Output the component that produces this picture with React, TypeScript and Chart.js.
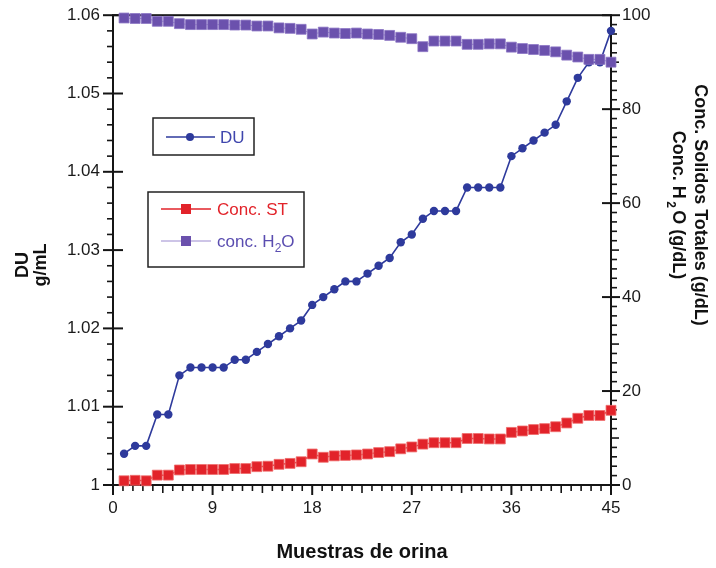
import { useEffect, useRef } from "react";
import { Chart, registerables } from "chart.js";

Chart.register(...registerables);

const samples = [
  1, 2, 3, 4, 5, 6, 7, 8, 9, 10, 11, 12, 13, 14, 15, 16, 17, 18, 19, 20, 21, 22, 23,
  24, 25, 26, 27, 28, 29, 30, 31, 32, 33, 34, 35, 36, 37, 38, 39, 40, 41, 42, 43, 44, 45,
];
const duValues = [
  1.004, 1.005, 1.005, 1.009, 1.009, 1.014, 1.015, 1.015, 1.015, 1.015, 1.016, 1.016,
  1.017, 1.018, 1.019, 1.02, 1.021, 1.023, 1.024, 1.025, 1.026, 1.026, 1.027, 1.028,
  1.029, 1.031, 1.032, 1.034, 1.035, 1.035, 1.035, 1.038, 1.038, 1.038, 1.038, 1.042,
  1.043, 1.044, 1.045, 1.046, 1.049, 1.052, 1.054, 1.054, 1.058,
];
const stValues = [
  0.9, 1.0, 0.9, 2.1, 2.1, 3.2, 3.3, 3.3, 3.3, 3.3, 3.5, 3.5, 3.9, 4.0, 4.4, 4.6, 4.95,
  6.6, 5.9, 6.2, 6.3, 6.4, 6.6, 6.9, 7.1, 7.7, 8.1, 8.7, 9.0, 9.0, 9.0, 9.9, 9.9, 9.8,
  9.8, 11.2, 11.5, 11.8, 12.0, 12.4, 13.2, 14.2, 14.8, 14.8, 15.9,
];
const h2oValues = [
  99.4, 99.3, 99.3, 98.7, 98.7, 98.2, 98.0, 98.0, 98.0, 98.0, 97.9, 97.9, 97.7, 97.7,
  97.3, 97.2, 97.0, 96.0, 96.4, 96.2, 96.1, 96.2, 96.0, 95.9, 95.7, 95.3, 95.0, 93.3,
  94.5, 94.5, 94.5, 93.8, 93.8, 93.9, 93.9, 93.2, 92.9, 92.7, 92.5, 92.2, 91.5, 91.1,
  90.6, 90.6, 90.0,
];

const xTicks = [0, 9, 18, 27, 36, 45];
const leftTicks = [1, 1.01, 1.02, 1.03, 1.04, 1.05, 1.06];
const rightTicks = [0, 20, 40, 60, 80, 100];
const xMinorStep = 0.9;
const leftMinorStep = 0.002;
const rightMinorStep = 2;

const DU_COLOR = "#2e3a9c";
const ST_COLOR = "#e2232a";
const H2O_COLOR = "#6b51ad";
const H2O_LINE = "#9b8acf";
const AXIS = "#151515";
const FONT = "'Liberation Sans', Arial, sans-serif";

function line(ctx: CanvasRenderingContext2D, x1: number, y1: number, x2: number, y2: number) {
  ctx.beginPath();
  ctx.moveTo(x1, y1);
  ctx.lineTo(x2, y2);
  ctx.stroke();
}

const framePlugin = {
  id: "frameTicks",
  beforeDatasetsDraw(chart: any) {
    const { ctx, chartArea } = chart;
    const { left, right, top, bottom } = chartArea;
    const xs = chart.scales.x;
    const ys = chart.scales.y;
    const ys2 = chart.scales.y1;
    ctx.save();
    ctx.strokeStyle = AXIS;
    ctx.lineCap = "butt";
    ctx.lineWidth = 2;
    ctx.strokeRect(left, top, right - left, bottom - top);

    // left axis
    const lmin = leftTicks[0];
    const lmax = leftTicks[leftTicks.length - 1];
    const nL = Math.round((lmax - lmin) / leftMinorStep);
    for (let i = 0; i <= nL; i++) {
      const p = ys.getPixelForValue(lmin + i * leftMinorStep);
      if (i % 5 === 0) {
        ctx.lineWidth = 2;
        line(ctx, left - 10, p, left + 10, p);
      } else {
        ctx.lineWidth = 1.6;
        line(ctx, left - 6, p, left, p);
      }
    }
    // right axis
    const rmin = rightTicks[0];
    const rmax = rightTicks[rightTicks.length - 1];
    const nR = Math.round((rmax - rmin) / rightMinorStep);
    for (let i = 0; i <= nR; i++) {
      const p = ys2.getPixelForValue(rmin + i * rightMinorStep);
      if (i % 10 === 0) {
        ctx.lineWidth = 2;
        line(ctx, right - 9, p, right + 9, p);
      } else if (i % 5 === 0) {
        ctx.lineWidth = 1.6;
        line(ctx, right, p, right + 8, p);
      } else {
        ctx.lineWidth = 1.6;
        line(ctx, right, p, right + 6, p);
      }
    }
    // x axis
    const xmin = xTicks[0];
    const xmax = xTicks[xTicks.length - 1];
    const nX = Math.round((xmax - xmin) / xMinorStep);
    for (let i = 0; i <= nX; i++) {
      const p = xs.getPixelForValue(xmin + i * xMinorStep);
      if (i % 10 === 0) {
        ctx.lineWidth = 2;
        line(ctx, p, bottom, p, bottom + 10);
      } else if (i % 5 === 0) {
        ctx.lineWidth = 1.6;
        line(ctx, p, bottom, p, bottom + 8);
      } else {
        ctx.lineWidth = 1.6;
        line(ctx, p, bottom, p, bottom + 6);
      }
    }
    ctx.restore();
  },
  afterDraw(chart: any) {
    const { ctx, chartArea } = chart;
    const { left, right } = chartArea;
    ctx.save();
    ctx.fillStyle = "#111";
    ctx.textBaseline = "middle";
    ctx.textAlign = "center";

    // bottom title
    ctx.font = `bold 20px ${FONT}`;
    ctx.fillText("Muestras de orina", (left + right) / 2, 552);

    // left title
    ctx.save();
    ctx.translate(32, 265);
    ctx.rotate(-Math.PI / 2);
    ctx.font = `bold 18px ${FONT}`;
    ctx.fillText("DU", 0, -9);
    ctx.fillText("g/mL", 0, 9);
    ctx.restore();

    // right title
    ctx.save();
    ctx.translate(689, 205);
    ctx.rotate(Math.PI / 2);
    ctx.font = `bold 18px ${FONT}`;
    ctx.fillText("Conc. Solidos Totales (g/dL)", 0, -11);
    const p1 = "Conc. H";
    const p2 = "2";
    const p3 = "O (g/dL)";
    const w1 = ctx.measureText(p1).width;
    const w3 = ctx.measureText(p3).width;
    ctx.font = `bold 12px ${FONT}`;
    const w2 = ctx.measureText(p2).width + 5;
    const total = w1 + w2 + w3;
    const x0 = -total / 2;
    ctx.textAlign = "left";
    ctx.font = `bold 18px ${FONT}`;
    ctx.fillText(p1, x0, 11);
    ctx.font = `bold 12px ${FONT}`;
    ctx.fillText(p2, x0 + w1 + 2.5, 19);
    ctx.font = `bold 18px ${FONT}`;
    ctx.fillText(p3, x0 + w1 + w2, 11);
    ctx.restore();

    // legend boxes
    ctx.strokeStyle = "#222";
    ctx.lineWidth = 1.5;
    ctx.strokeRect(153, 118, 101, 37);
    ctx.strokeRect(148, 192, 156, 75);

    ctx.textAlign = "left";
    ctx.font = `17px ${FONT}`;
    // DU entry
    ctx.strokeStyle = DU_COLOR;
    ctx.lineWidth = 1.5;
    line(ctx, 166, 137, 215, 137);
    ctx.fillStyle = DU_COLOR;
    ctx.beginPath();
    ctx.arc(190, 137, 4, 0, Math.PI * 2);
    ctx.fill();
    ctx.fillStyle = "#3f46ad";
    ctx.fillText("DU", 220, 138);

    // ST entry
    ctx.strokeStyle = ST_COLOR;
    line(ctx, 161, 209, 211, 209);
    ctx.fillStyle = ST_COLOR;
    ctx.fillRect(181, 204, 10, 10);
    ctx.fillText("Conc. ST", 217, 210);

    // H2O entry
    ctx.strokeStyle = H2O_LINE;
    ctx.lineWidth = 1;
    line(ctx, 161, 241, 211, 241);
    ctx.fillStyle = H2O_COLOR;
    ctx.fillRect(181, 236, 10, 10);
    ctx.fillStyle = "#5a4db0";
    ctx.fillText("conc. H", 217, 242);
    const wh = ctx.measureText("conc. H").width;
    ctx.font = `12px ${FONT}`;
    ctx.fillText("2", 217 + wh, 249);
    const w22 = ctx.measureText("2").width;
    ctx.font = `17px ${FONT}`;
    ctx.fillText("O", 217 + wh + w22, 242);

    ctx.restore();
  },
};

export default function App() {
  const ref = useRef<HTMLCanvasElement | null>(null);

  useEffect(() => {
    if (!ref.current) return;
    const tickFont = { family: FONT, size: 17 };
    const chart = new Chart(ref.current, {
      type: "line",
      data: {
        datasets: [
          {
            label: "conc. H2O",
            data: samples.map((s, i) => ({ x: s, y: h2oValues[i] })),
            yAxisID: "y1",
            borderColor: H2O_LINE,
            borderWidth: 1,
            pointStyle: "rect",
            pointRadius: 7,
            pointBackgroundColor: H2O_COLOR,
            pointBorderColor: "#8a74c4",
            pointBorderWidth: 0.8,
            clip: false as any,
          },
          {
            label: "Conc. ST",
            data: samples.map((s, i) => ({ x: s, y: stValues[i] })),
            yAxisID: "y1",
            borderColor: ST_COLOR,
            borderWidth: 1.5,
            pointStyle: "rect",
            pointRadius: 7,
            pointBackgroundColor: ST_COLOR,
            pointBorderColor: "#ef6a6a",
            pointBorderWidth: 0.8,
            clip: false as any,
          },
          {
            label: "DU",
            data: samples.map((s, i) => ({ x: s, y: duValues[i] })),
            yAxisID: "y",
            borderColor: DU_COLOR,
            borderWidth: 1.6,
            pointStyle: "circle",
            pointRadius: 4.2,
            pointBackgroundColor: DU_COLOR,
            pointBorderColor: DU_COLOR,
            pointBorderWidth: 0,
            clip: false as any,
          },
        ],
      },
      options: {
        responsive: false,
        animation: false,
        devicePixelRatio: 1,
        layout: { padding: { top: 14, left: 0, right: 0, bottom: 0 } },
        plugins: { legend: { display: false }, tooltip: { enabled: false } },
        scales: {
          x: {
            type: "linear",
            min: xTicks[0],
            max: xTicks[xTicks.length - 1],
            afterBuildTicks: (s: any) => {
              s.ticks = xTicks.map((v) => ({ value: v }));
            },
            afterFit: (s: any) => {
              s.height = 83;
            },
            grid: { display: false },
            border: { display: false },
            ticks: { font: tickFont, color: "#1a1a1a", padding: 5, maxRotation: 0 },
          },
          y: {
            type: "linear",
            position: "left",
            min: leftTicks[0],
            max: leftTicks[leftTicks.length - 1],
            afterBuildTicks: (s: any) => {
              s.ticks = leftTicks.map((v) => ({ value: v }));
            },
            afterFit: (s: any) => {
              s.width = 113;
            },
            grid: { display: false },
            border: { display: false },
            ticks: {
              font: tickFont,
              color: "#1a1a1a",
              padding: 5,
              callback: (v: any) => String(Number(Number(v).toFixed(2))),
            },
          },
          y1: {
            type: "linear",
            position: "right",
            min: rightTicks[0],
            max: rightTicks[rightTicks.length - 1],
            afterBuildTicks: (s: any) => {
              s.ticks = rightTicks.map((v) => ({ value: v }));
            },
            afterFit: (s: any) => {
              s.width = 105;
            },
            grid: { display: false },
            border: { display: false },
            ticks: { font: tickFont, color: "#1a1a1a", padding: 3 },
          },
        },
      },
      plugins: [framePlugin],
    } as any);
    return () => chart.destroy();
  }, []);

  return (
    <div style={{ position: "absolute", left: 0, top: 0, width: 716, height: 568, background: "#fff" }}>
      <canvas ref={ref} width={716} height={568} style={{ display: "block" }} />
    </div>
  );
}
